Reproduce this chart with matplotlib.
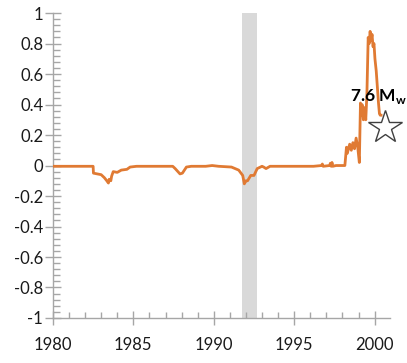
import matplotlib
matplotlib.use("Agg")
import matplotlib.pyplot as plt
from matplotlib.ticker import MultipleLocator

plt.rcParams['font.family'] = ['Lato', 'DejaVu Sans']

# Time series (decimal years) and values
years = [1980.0, 1982.5, 1982.52, 1983.0, 1983.2, 1983.35, 1983.45, 1983.5,
         1983.6, 1983.65, 1983.75, 1984.0, 1984.25, 1984.6, 1984.8, 1985.2,
         1987.45, 1987.6, 1987.9, 1988.05, 1988.3, 1988.6,
         1989.5, 1989.9, 1990.3, 1991.1, 1991.55, 1991.8, 1991.9, 1992.0,
         1992.1, 1992.3, 1992.5, 1992.7, 1993.0, 1993.1, 1993.25, 1993.5,
         1996.2, 1996.7, 1996.75, 1996.8, 1997.2, 1997.25, 1997.3, 1997.35,
         1997.4, 1997.6, 1998.15, 1998.25, 1998.3, 1998.45, 1998.55, 1998.65,
         1998.75, 1998.85, 1998.95, 1999.05, 1999.12, 1999.17, 1999.22,
         1999.3, 1999.38, 1999.45, 1999.52, 1999.6, 1999.66, 1999.72, 1999.78,
         1999.84, 1999.9, 1999.96, 2000.02, 2000.1, 2000.18, 2000.24, 2000.3,
         2000.35, 2000.4]
values = [-0.005, -0.005, -0.05, -0.06, -0.08, -0.1, -0.115, -0.09,
          -0.1, -0.07, -0.04, -0.045, -0.03, -0.025, -0.01, -0.005,
          -0.005, -0.02, -0.055, -0.05, -0.01, -0.005,
          -0.005, 0.0, -0.005, -0.01, -0.03, -0.065, -0.12, -0.1,
          -0.1, -0.065, -0.065, -0.02, -0.005, -0.01, -0.02, -0.005,
          -0.005, 0.0, 0.01, -0.005, 0.0, 0.015, -0.005, 0.02,
          -0.005, 0.0, 0.0, 0.12, 0.08, 0.14, 0.1, 0.15,
          0.11, 0.18, 0.12, 0.02, 0.41, 0.33, 0.4,
          0.3, 0.38, 0.3, 0.47, 0.84, 0.8, 0.88, 0.82,
          0.86, 0.78, 0.8, 0.7, 0.62, 0.5, 0.41, 0.34,
          0.33, 0.33]

# Shaded period
band_start, band_end = 1991.75, 1992.7

# Event marker and label
event_year, event_value = 2000.65, 0.25
event_label = r"7.6 M$_\mathregular{w}$"

y_ticks = [-1, -0.8, -0.6, -0.4, -0.2, 0, 0.2, 0.4, 0.6, 0.8, 1]
y_tick_labels = ["-1", "-0.8", "-0.6", "-0.4", "-0.2", "0", "0.2", "0.4", "0.6", "0.8", "1"]
x_ticks = [1980, 1985, 1990, 1995, 2000]
x_tick_labels = ["1980", "1985", "1990", "1995", "2000"]

fig = plt.figure(figsize=(4.07, 3.63), dpi=100)
ax = fig.add_axes([0.130, 0.124, 0.828, 0.840])

ax.axvspan(band_start, band_end, color="#d9d9d9", lw=0, zorder=1)
ax.plot(years, values, color="#E07A33", lw=2.0, solid_joinstyle="round", zorder=3)
ax.plot([event_year], [event_value], marker="*", ms=25, mfc="white",
        mec="#404040", mew=1.0, zorder=4, clip_on=False)
ax.text(1998.45, 0.45, event_label, fontsize=12.5, fontweight="bold",
        ha="left", va="center", color="black", zorder=5)

ax.set_xlim(1980, 2000.95)
ax.set_ylim(-1, 1)

ax.set_yticks(y_ticks)
ax.set_yticklabels(y_tick_labels)
ax.set_xticks(x_ticks)
ax.set_xticklabels(x_tick_labels)
ax.yaxis.set_minor_locator(MultipleLocator(0.04))
ax.xaxis.set_minor_locator(MultipleLocator(1))

spine_color = "#a6a6a6"
for side in ("top", "right"):
    ax.spines[side].set_visible(False)
for side in ("left", "bottom"):
    ax.spines[side].set_color(spine_color)
    ax.spines[side].set_linewidth(1.0)

ax.tick_params(axis="y", which="major", direction="inout", length=12, width=1,
               color=spine_color, labelsize=12, labelcolor="#1a1a1a", pad=1)
ax.tick_params(axis="y", which="minor", direction="in", length=5, width=1,
               color=spine_color)
ax.tick_params(axis="x", which="major", direction="inout", length=10, width=1,
               color=spine_color, labelsize=12, labelcolor="#1a1a1a", pad=9)
ax.tick_params(axis="x", which="minor", direction="in", length=4, width=1,
               color=spine_color)

fig.savefig("out.png", dpi=100)
